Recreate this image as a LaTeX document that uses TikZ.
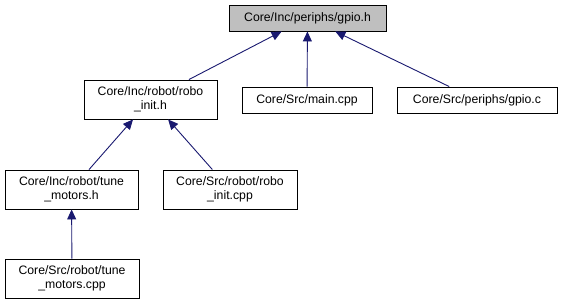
\documentclass[tikz,border=0pt]{standalone}
\usepackage{fontspec}
\setmainfont{Liberation Sans}
\usetikzlibrary{arrows.meta}
\definecolor{edgeblue}{HTML}{191970}
\definecolor{rootfill}{HTML}{BFBFBF}
\begin{document}
\begin{tikzpicture}[x=1bp,y=-1bp,
  filebox/.style={draw=black,line width=0.9bp,fill=white,align=center,
    inner sep=0pt,font=\fontsize{12.3}{14}\selectfont},
  rootbox/.style={filebox,fill=rootfill},
  incl/.style={edgeblue,line width=0.9bp,-{Triangle[length=10bp,width=9bp]}}]
\useasboundingbox (0,0) rectangle (561,305);
\fill[white] (0,0) rectangle (561,305);
% header at the top of the include graph
\node[rootbox,minimum width=157bp,minimum height=26bp] (gpioh) at (307.5,18) {Core/Inc/periphs/gpio.h};
% files that include it
\node[filebox,minimum width=133bp,minimum height=39bp] (roboh) at (150.5,99.5) {Core/Inc/robot/robo\\\_init.h};
\node[filebox,minimum width=130bp,minimum height=26bp] (mainc) at (307,100) {Core/Src/main.cpp};
\node[filebox,minimum width=160bp,minimum height=26bp] (gpioc) at (477,100) {Core/Src/periphs/gpio.c};
\node[filebox,minimum width=133bp,minimum height=39bp] (tuneh) at (71.5,189.5) {Core/Inc/robot/tune\\\_motors.h};
\node[filebox,minimum width=134bp,minimum height=39bp] (roboc) at (230,189.5) {Core/Src/robot/robo\\\_init.cpp};
\node[filebox,minimum width=134bp,minimum height=39bp] (tunec) at (72,278.5) {Core/Src/robot/tune\\\_motors.cpp};
% include edges, arrow at the included file
\draw[incl] (roboh) -- (gpioh);
\draw[incl] (mainc) -- (gpioh);
\draw[incl] (gpioc) -- (gpioh);
\draw[incl] (tuneh) -- (roboh);
\draw[incl] (roboc) -- (roboh);
\draw[incl] (tunec) -- (tuneh);
\end{tikzpicture}
\end{document}
